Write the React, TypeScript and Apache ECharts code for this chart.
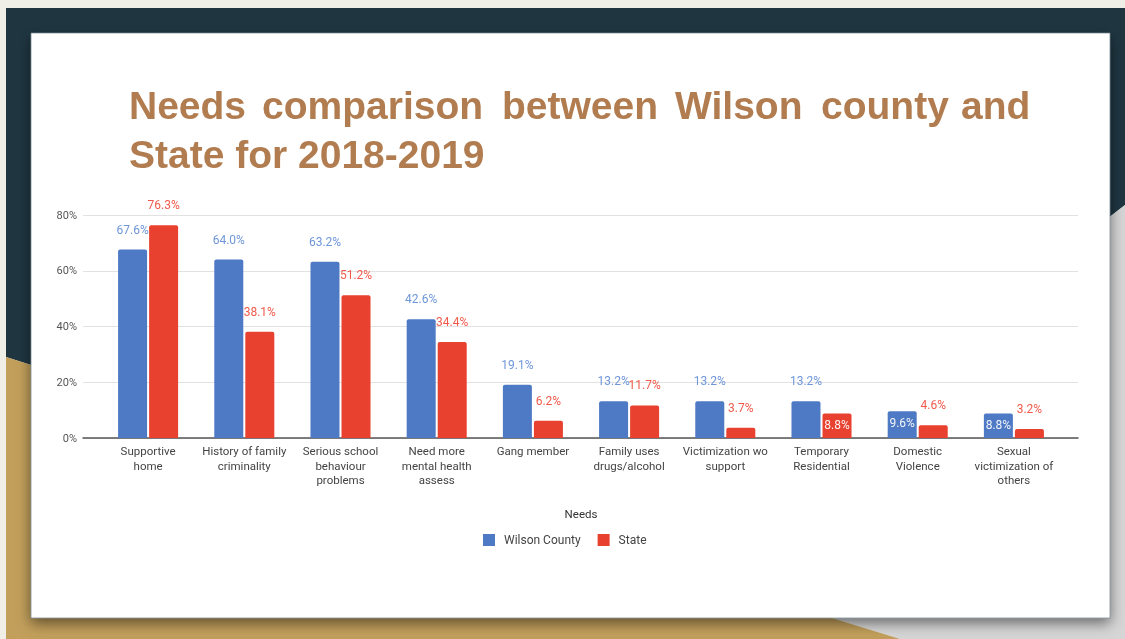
import React, { useEffect, useRef } from "react";
import * as echarts from "echarts";

const categories = [
  "Supportive\nhome",
  "History of family\ncriminality",
  "Serious school\nbehaviour\nproblems",
  "Need more\nmental health\nassess",
  "Gang member",
  "Family uses\ndrugs/alcohol",
  "Victimization wo\nsupport",
  "Temporary\nResidential",
  "Domestic\nViolence",
  "Sexual\nvictimization of\nothers",
];
const wilsonValues = [67.6, 64.0, 63.2, 42.6, 19.1, 13.2, 13.2, 13.2, 9.6, 8.8];
const stateValues = [76.3, 38.1, 51.2, 34.4, 6.2, 11.7, 3.7, 8.8, 4.6, 3.2];
const seriesNames = ["Wilson County", "State"];
const yTicks = [0, 20, 40, 60, 80];
// indices whose value label sits inside the bar (as in the source)
const wilsonInside = [8, 9];
const stateInside = [7];

const titleLine1Words = ["Needs", "comparison", "between", "Wilson", "county", "and"];
const titleLine1X = [129, 262, 502, 675, 821, 961];
const titleLine2 = "State for 2018-2019";

const BLUE = "#4E79C4";
const RED = "#E8412F";
const BLUE_LABEL = "#6E96D9";
const RED_LABEL = "#F05A4B";
const TITLE_COLOR = "#B17C4F";
const FONT = "Roboto, Arial, sans-serif";

function buildData(values: number[], inside: number[], labelColor: string) {
  return values.map((v, i) =>
    inside.includes(i)
      ? {
          value: v,
          label: {
            position: "insideTop",
            distance: 6,
            color: "rgba(255,255,255,0.92)",
          },
        }
      : { value: v, label: { color: labelColor } }
  );
}

export default function App() {
  const ref = useRef<HTMLDivElement>(null);
  useEffect(() => {
    if (!ref.current) return;
    const chart = echarts.init(ref.current, undefined, { renderer: "svg" });
    const titleFont = 'bold 39px "Liberation Sans", Arial, sans-serif';
    const graphic: any[] = [
      { type: "rect", z: -20, shape: { x: 0, y: 0, width: 1125, height: 639 }, style: { fill: "#F0EFE7" } },
      {
        type: "polygon",
        z: -19,
        shape: { points: [[6, 8], [1125, 8], [1125, 205], [660, 565], [6, 357]] },
        style: { fill: "#1F3641" },
      },
      {
        type: "polygon",
        z: -19,
        shape: { points: [[1125, 205], [1125, 639], [900, 639], [660, 565]] },
        style: { fill: "#D6D6D6" },
      },
      {
        type: "polygon",
        z: -19,
        shape: { points: [[6, 357], [660, 565], [900, 639], [6, 639]] },
        style: { fill: "#C29F5B" },
      },
      {
        type: "rect",
        z: -18,
        shape: { x: 31, y: 33, width: 1079, height: 585 },
        style: {
          fill: "#FFFFFF",
          stroke: "rgba(110,125,135,0.7)",
          lineWidth: 1,
          shadowBlur: 14,
          shadowOffsetY: 5,
          shadowColor: "rgba(0,0,0,0.5)",
        },
      },
    ];
    titleLine1Words.forEach((w, i) => {
      graphic.push({
        type: "text",
        z: 10,
        style: {
          text: w,
          x: titleLine1X[i],
          y: 105,
          fill: TITLE_COLOR,
          font: titleFont,
          textAlign: "left",
          textVerticalAlign: "middle",
        },
      });
    });
    graphic.push({
      type: "text",
      z: 10,
      style: {
        text: titleLine2,
        x: 129,
        y: 154,
        fill: TITLE_COLOR,
        font: titleFont,
        textAlign: "left",
        textVerticalAlign: "middle",
      },
    });

    const option: any = {
      animation: false,
      textStyle: { fontFamily: FONT },
      graphic,
      legend: {
        data: seriesNames,
        left: 483,
        top: 534,
        padding: 0,
        icon: "rect",
        itemWidth: 12,
        itemHeight: 12,
        itemGap: 17,
        textStyle: { fontSize: 12, color: "#444", fontFamily: FONT, padding: [0, 0, 0, 4] },
      },
      grid: [
        { left: 100, right: 63, top: 215, bottom: 201 },
        { left: 83, right: 47, top: 215, bottom: 201 },
      ],
      xAxis: [
        {
          type: "category",
          gridIndex: 0,
          data: categories,
          axisLine: { show: false },
          axisTick: { show: false },
          axisLabel: {
            interval: 0,
            fontSize: 11.5,
            lineHeight: 14.5,
            color: "#444",
            margin: 6,
            fontFamily: FONT,
          },
          name: "Needs",
          nameLocation: "middle",
          nameGap: 70,
          nameTextStyle: { fontSize: 11.5, color: "#333", fontFamily: FONT },
        },
        {
          type: "value",
          gridIndex: 1,
          min: 0,
          max: 1,
          axisLine: { show: true, lineStyle: { color: "#555", width: 1.5 } },
          axisTick: { show: false },
          axisLabel: { show: false },
          splitLine: { show: false },
        },
      ],
      yAxis: [
        {
          type: "value",
          gridIndex: 0,
          min: yTicks[0],
          max: yTicks[yTicks.length - 1],
          interval: 20,
          show: false,
          splitLine: { show: false },
        },
        {
          type: "value",
          gridIndex: 1,
          min: yTicks[0],
          max: yTicks[yTicks.length - 1],
          interval: 20,
          axisLine: { show: false },
          axisTick: { show: false },
          axisLabel: {
            formatter: "{value}%",
            fontSize: 11,
            color: "#555",
            margin: 6,
            fontFamily: FONT,
          },
          splitLine: { lineStyle: { color: "#E2E2E2", width: 1 } },
        },
      ],
      series: [
        {
          name: seriesNames[0],
          type: "bar",
          xAxisIndex: 0,
          yAxisIndex: 0,
          barWidth: 29,
          barGap: "7%",
          itemStyle: { color: BLUE, borderRadius: [2, 2, 0, 0] },
          label: {
            show: true,
            position: "top",
            distance: 14,
            fontSize: 12,
            fontFamily: FONT,
            formatter: (p: any) => p.value.toFixed(1) + "%",
          },
          data: buildData(wilsonValues, wilsonInside, BLUE_LABEL),
        },
        {
          name: seriesNames[1],
          type: "bar",
          xAxisIndex: 0,
          yAxisIndex: 0,
          barWidth: 29,
          barGap: "7%",
          itemStyle: { color: RED, borderRadius: [2, 2, 0, 0] },
          label: {
            show: true,
            position: "top",
            distance: 14,
            fontSize: 12,
            fontFamily: FONT,
            formatter: (p: any) => p.value.toFixed(1) + "%",
          },
          data: buildData(stateValues, stateInside, RED_LABEL),
        },
      ],
    };
    chart.setOption(option);
    return () => chart.dispose();
  }, []);
  return (
    <div
      ref={ref}
      style={{ position: "fixed", left: 0, top: 0, width: 1125, height: 639 }}
    />
  );
}
